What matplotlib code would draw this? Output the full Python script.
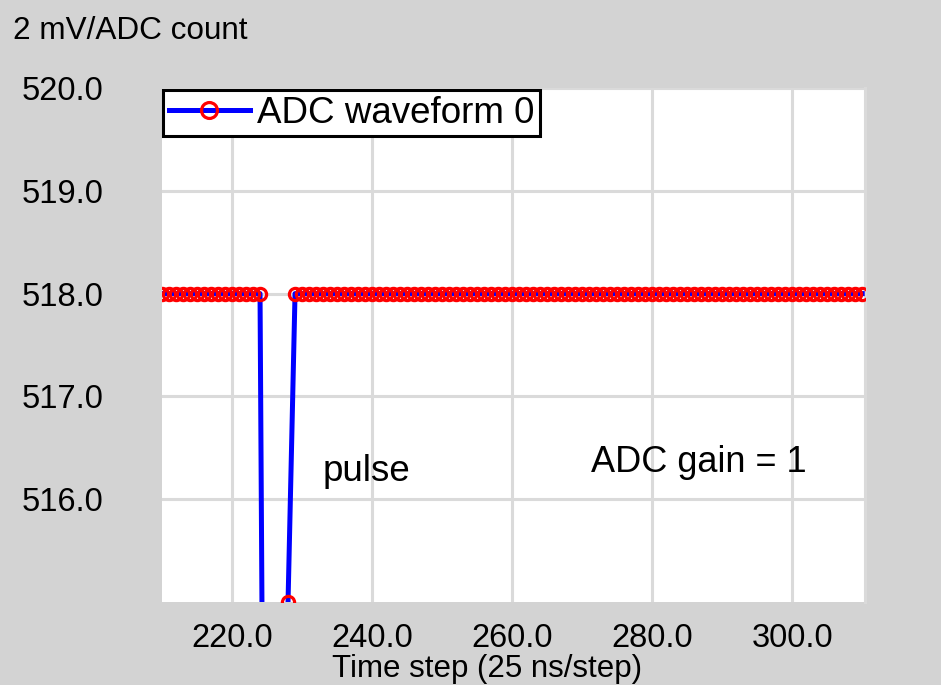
import matplotlib
matplotlib.use("Agg")
import matplotlib.pyplot as plt
import numpy as np

# ADC samples, one per time step (25 ns/step)
t_first = 210
t_last = 310
adc_counts = [
    518, 518, 518, 518, 518, 518, 518, 518, 518, 518,  # 210-219
    518, 518, 518, 518, 518, 507, 498, 503, 515, 518,  # 220-229
    518, 518, 518, 518, 518, 518, 518, 518, 518, 518,  # 230-239
    518, 518, 518, 518, 518, 518, 518, 518, 518, 518,  # 240-249
    518, 518, 518, 518, 518, 518, 518, 518, 518, 518,  # 250-259
    518, 518, 518, 518, 518, 518, 518, 518, 518, 518,  # 260-269
    518, 518, 518, 518, 518, 518, 518, 518, 518, 518,  # 270-279
    518, 518, 518, 518, 518, 518, 518, 518, 518, 518,  # 280-289
    518, 518, 518, 518, 518, 518, 518, 518, 518, 518,  # 290-299
    518, 518, 518, 518, 518, 518, 518, 518, 518, 518,  # 300-309
    518,                                               # 310
]
series_name = "ADC waveform 0"
x_ticks = [220, 240, 260, 280, 300]
y_ticks = [516, 517, 518, 519, 520]
y_title = "2 mV/ADC count"
x_title = "Time step (25 ns/step)"
note_pulse = "pulse"
note_gain = "ADC gain = 1"

time_steps = np.arange(t_first, t_last + 1)

plt.rcParams["font.family"] = ["Liberation Sans", "DejaVu Sans"]

bg = "#d3d3d3"
fig = plt.figure(figsize=(9.41, 6.85), dpi=100, facecolor=bg)
ax = fig.add_axes([162 / 941, 1 - 602 / 685, 703 / 941, 514 / 685])
ax.set_facecolor("white")

ax.plot(time_steps, adc_counts, color="blue", lw=3.6,
        marker="o", ms=8.8, mfc="none", mec="red", mew=2.3,
        label=series_name, zorder=3)

ax.set_xlim(210, 310.4)
ax.set_ylim(515, 520)
ax.set_xticks(x_ticks)
ax.set_yticks(y_ticks)
ax.set_xticklabels([f"{v:.1f}" for v in x_ticks])
ax.set_yticklabels([f"{v:.1f}" for v in y_ticks])
ax.tick_params(axis="both", length=0, labelsize=23.5)
ax.tick_params(axis="y", pad=42)
ax.tick_params(axis="x", pad=15)

ax.set_axisbelow(True)
ax.grid(True, color="#dadada", lw=2.2)
for side in ["left", "top", "bottom"]:
    ax.spines[side].set_visible(False)
ax.spines["right"].set_color("#dadada")
ax.spines["right"].set_linewidth(2.2)

ax.text(233.0, 516.18, note_pulse, fontsize=26.5, va="baseline", ha="left")
ax.text(271.3, 516.26, note_gain, fontsize=26, va="baseline", ha="left")

leg = ax.legend(loc="upper left", bbox_to_anchor=(0.0015, 0.996),
                borderaxespad=0, fontsize=26.5, handlelength=2.2,
                handletextpad=0.2, borderpad=0.15, fancybox=False,
                framealpha=1, edgecolor="black", markerscale=1.3)
leg.get_frame().set_linewidth(2.2)

fig.text(13 / 941, 1 - 39 / 685, y_title, fontsize=22.7, va="baseline", ha="left")
fig.text(487 / 941, 1 - 677 / 685, x_title, fontsize=22.5, va="baseline", ha="center")

fig.savefig("out.png", dpi=100, facecolor=bg)
